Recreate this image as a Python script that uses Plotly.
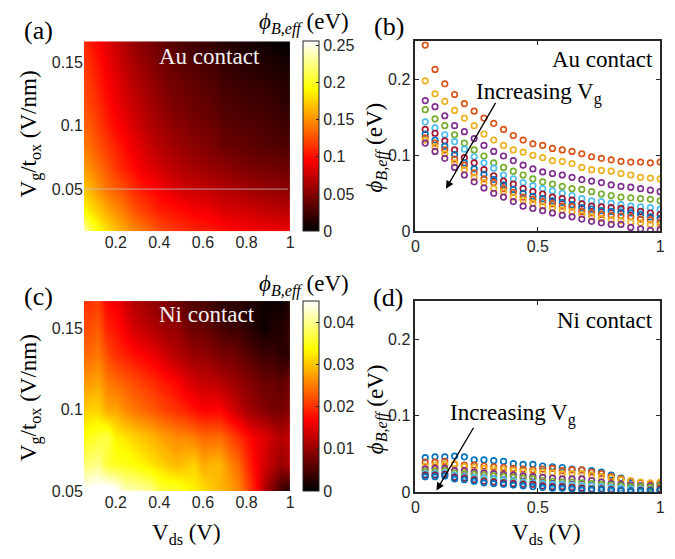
import plotly.graph_objects as go

# ---------------- data ----------------
vds = [0.04, 0.08, 0.12, 0.16, 0.20, 0.24, 0.28, 0.32, 0.36, 0.40, 0.44, 0.48, 0.52,
       0.56, 0.60, 0.64, 0.68, 0.72, 0.76, 0.80, 0.84, 0.88, 0.92, 0.96, 1.00]

# Vg/tox for Au (10 gate voltages) and Ni (8 gate voltages)
vg_tox_au = [0.0167, 0.0333, 0.05, 0.0667, 0.0833, 0.1, 0.1167, 0.1333, 0.15, 0.1667]
vg_tox_ni = [0.05, 0.0667, 0.0833, 0.1, 0.1167, 0.1333, 0.15, 0.1667]

# Au contact: phi_B,eff (eV) vs Vds, one list per gate voltage (increasing Vg)
au_1 = [.245, .213, .194, .180, .168, .158, .149, .142, .134, .126, .120, .115, .113, .109, .107, .105, .102, .098, .096, .094, .092, .091, .091, .090, .091]
au_2 = [.198, .181, .171, .159, .149, .139, .128, .120, .113, .107, .104, .100, .097, .093, .092, .089, .084, .081, .080, .079, .076, .074, .071, .070, .069]
au_3 = [.172, .164, .152, .139, .131, .122, .113, .105, .099, .093, .087, .082, .078, .076, .074, .071, .068, .066, .064, .061, .059, .058, .056, .054, .052]
au_4 = [.160, .148, .139, .127, .116, .107, .099, .090, .084, .079, .074, .069, .065, .062, .059, .056, .055, .052, .049, .047, .045, .044, .043, .042, .040]
au_5 = [.144, .136, .127, .118, .108, .098, .090, .083, .074, .069, .064, .060, .056, .053, .050, .047, .043, .040, .039, .037, .035, .033, .032, .031, .029]
au_6 = [.134, .129, .119, .107, .097, .090, .081, .073, .066, .062, .056, .052, .049, .045, .043, .041, .036, .033, .032, .031, .030, .028, .026, .024, .022]
au_7 = [.128, .120, .112, .101, .090, .082, .075, .068, .061, .055, .050, .046, .043, .040, .038, .035, .031, .029, .027, .026, .025, .024, .022, .019, .017]
au_8 = [.123, .116, .107, .095, .087, .077, .069, .064, .056, .051, .045, .042, .039, .036, .033, .032, .026, .024, .022, .021, .020, .019, .016, .015, .012]
au_9 = [.120, .111, .102, .090, .081, .071, .064, .056, .052, .045, .041, .037, .033, .031, .028, .026, .022, .019, .017, .015, .014, .012, .011, .009, .008]
au_10 = [.116, .105, .096, .084, .074, .065, .057, .050, .045, .039, .033, .030, .027, .024, .021, .019, .016, .013, .011, .009, .009, .005, .003, .001, .002]

# Ni contact
ni_1 = [.045, .046, .046, .047, .046, .042, .042, .041, .040, .037, .036, .036, .034, .033, .032, .030, .029, .028, .026, .022, .018, .012, .008, .004, .002]
ni_2 = [.039, .039, .040, .036, .035, .035, .034, .033, .032, .031, .030, .029, .030, .031, .028, .029, .029, .026, .024, .020, .017, .014, .012, .010, .012]
ni_3 = [.034, .035, .036, .037, .033, .032, .031, .030, .029, .028, .027, .026, .026, .025, .024, .024, .024, .022, .020, .018, .016, .015, .013, .012, .013]
ni_4 = [.030, .031, .031, .028, .028, .026, .025, .024, .023, .022, .021, .020, .019, .018, .017, .017, .017, .015, .013, .011, .010, .009, .008, .008, .009]
ni_5 = [.027, .027, .028, .025, .024, .023, .022, .021, .020, .019, .018, .017, .015, .014, .013, .013, .012, .011, .010, .009, .008, .007, .007, .006, .008]
ni_6 = [.024, .024, .025, .022, .020, .019, .018, .017, .016, .015, .013, .012, .011, .010, .010, .009, .008, .008, .007, .006, .005, .004, .004, .003, .003]
ni_7 = [.022, .022, .023, .019, .018, .016, .014, .013, .012, .011, .010, .010, .008, .007, .007, .006, .005, .004, .004, .003, .002, .001, .002, .002, .004]
ni_8 = [.020, .020, .021, .017, .016, .014, .012, .011, .010, .009, .008, .007, .006, .005, .005, .004, .003, .003, .003, .002, .002, .001, .001, .001, .002]

au_series = [au_1, au_2, au_3, au_4, au_5, au_6, au_7, au_8, au_9, au_10]
ni_series = [ni_1, ni_2, ni_3, ni_4, ni_5, ni_6, ni_7, ni_8]

heat_line_y = 0.05  # faint horizontal artifact line in panel (a)

# ---------------- style ----------------
W, H = 675, 559
MAT = ['#0072BD', '#D95319', '#EDB120', '#7E2F8E', '#77AC30', '#4DBEEE', '#A2142F']
au_colors = [MAT[(i + 1) % 7] for i in range(len(au_series))]
ni_colors = [MAT[i % 7] for i in range(len(ni_series))]
hot = [[0, 'rgb(0,0,0)'], [0.375, 'rgb(255,0,0)'], [0.75, 'rgb(255,255,0)'], [1, 'rgb(255,255,255)']]
SERIF = 'Liberation Serif'
SANS = 'Liberation Sans'
TICKC = '#262626'


def fx(p):
    return p / W


def fy(p):
    return 1 - p / H


A_X = [fx(81), fx(290)]
B_X = [fx(417), fx(665)]
TOP_Y = [fy(235), fy(42)]
C_Y = [fy(499), fy(306)]
D_Y = [fy(500), fy(306)]

fig = go.Figure()

# (a) heatmap Au
fig.add_trace(go.Heatmap(
    x=vds, y=vg_tox_au, z=au_series, zsmooth='best', colorscale=hot,
    zmin=0, zmax=0.255, xaxis='x', yaxis='y', hoverinfo='skip',
    colorbar=dict(x=fx(303), xanchor='left', xpad=0, ypad=0, y=fy(42), yanchor='top',
                  len=193 / H, lenmode='fraction', thickness=16, thicknessmode='pixels',
                  outlinewidth=1, outlinecolor=TICKC,
                  tickvals=[0, 0.05, 0.1, 0.15, 0.2, 0.25],
                  ticktext=['0', '0.05', '0.1', '0.15', '0.2', '0.25'],
                  ticks='inside', ticklen=3, tickcolor=TICKC,
                  tickfont=dict(family=SANS, size=16, color=TICKC))))

# (c) heatmap Ni
fig.add_trace(go.Heatmap(
    x=vds, y=vg_tox_ni, z=ni_series, zsmooth='best', colorscale=hot,
    zmin=0, zmax=0.045, xaxis='x3', yaxis='y3', hoverinfo='skip',
    colorbar=dict(x=fx(303), xanchor='left', xpad=0, ypad=0, y=fy(306), yanchor='top',
                  len=193 / H, lenmode='fraction', thickness=16, thicknessmode='pixels',
                  outlinewidth=1, outlinecolor=TICKC,
                  tickvals=[0, 0.01, 0.02, 0.03, 0.04],
                  ticktext=['0', '0.01', '0.02', '0.03', '0.04'],
                  ticks='inside', ticklen=3, tickcolor=TICKC,
                  tickfont=dict(family=SANS, size=16, color=TICKC))))

# (b) scatter Au
for s, c in zip(au_series, au_colors):
    fig.add_trace(go.Scatter(x=vds, y=s, mode='markers', xaxis='x2', yaxis='y2',
                             marker=dict(symbol='circle-open', size=5.5, color=c, line=dict(width=1.7, color=c)),
                             showlegend=False, hoverinfo='skip'))
# (d) scatter Ni
for s, c in zip(ni_series, ni_colors):
    fig.add_trace(go.Scatter(x=vds, y=s, mode='markers', xaxis='x4', yaxis='y4',
                             marker=dict(symbol='circle-open', size=5.5, color=c, line=dict(width=1.7, color=c)),
                             showlegend=False, hoverinfo='skip'))

tickfont = dict(family=SANS, size=16, color=TICKC)
heat_x = dict(range=[0.054, 1], tickvals=[0.2, 0.4, 0.6, 0.8, 1], ticktext=['0.2', '0.4', '0.6', '0.8', '1'],
              showgrid=False, zeroline=False, ticks='', tickfont=tickfont, showline=False)
heat_y_common = dict(tickvals=[0.05, 0.1, 0.15], ticktext=['0.05', '0.1', '0.15'], showgrid=False,
                     zeroline=False, ticks='', tickfont=tickfont, showline=False)
sc_x = dict(range=[0, 1], tickvals=[0, 0.5, 1], ticktext=['0', '0.5', '1'], showgrid=False, zeroline=False,
            ticks='inside', ticklen=4, tickcolor=TICKC, tickwidth=1, showline=True, linecolor=TICKC,
            linewidth=1.8, mirror='ticks', tickfont=tickfont)
sc_y = dict(range=[0, 0.25], tickvals=[0, 0.1, 0.2], ticktext=['0', '0.1', '0.2'], showgrid=False,
            zeroline=False, ticks='inside', ticklen=4, tickcolor=TICKC, tickwidth=1, showline=True,
            linecolor=TICKC, linewidth=1.8, mirror='ticks', tickfont=tickfont)

fig.update_layout(
    width=W, height=H, margin=dict(l=0, r=0, t=0, b=0),
    paper_bgcolor='white', plot_bgcolor='white', showlegend=False,
    xaxis=dict(domain=A_X, anchor='y', **heat_x),
    yaxis=dict(domain=TOP_Y, anchor='x', range=[0.0167, 0.1667], **heat_y_common),
    xaxis2=dict(domain=B_X, anchor='y2', **sc_x),
    yaxis2=dict(domain=TOP_Y, anchor='x2', **sc_y),
    xaxis3=dict(domain=A_X, anchor='y3', **heat_x),
    yaxis3=dict(domain=C_Y, anchor='x3', range=[0.05, 0.1667], **heat_y_common),
    xaxis4=dict(domain=B_X, anchor='y4', **sc_x),
    yaxis4=dict(domain=D_Y, anchor='x4', **sc_y),
)

fig.add_shape(type='line', xref='x', yref='y', x0=0.054, x1=0.99, y0=heat_line_y, y1=heat_line_y,
              line=dict(color='rgba(190,190,190,0.8)', width=1))

ann = []


def text(x, y, t, size=23, color='black', xanchor='center', yanchor='middle', angle=0, xref='paper', yref='paper'):
    ann.append(dict(x=x, y=y, xref=xref, yref=yref, text=t, showarrow=False, xanchor=xanchor, yanchor=yanchor,
                    textangle=angle, font=dict(family=SERIF, size=size, color=color)))


PHI = '<i>ϕ</i><sub><i>B,eff</i></sub> (eV)'
VG = 'V<sub>g</sub>/t<sub>ox</sub> (V/nm)'
VDS = 'V<sub>ds</sub> (V)'

# panel labels
text(fx(35), fy(31), '(a)', size=26)
text(fx(390), fy(27), '(b)', size=26)
text(fx(35), fy(301), '(c)', size=26)
text(fx(389), fy(302), '(d)', size=26)
# colorbar titles
text(fx(304), fy(24), PHI)
text(fx(304), fy(290), PHI)
# axis titles
text(fx(27), fy(136), VG, angle=-90)
text(fx(27), fy(404), VG, angle=-90)
text(fx(185), fy(559), VDS, yanchor='bottom')
text(fx(550), fy(559), VDS, yanchor='bottom')
text(fx(378), fy(150), PHI, angle=-90)
text(fx(378), fy(416), PHI, angle=-90)
# in-plot labels
text(fx(208), fy(57), 'Au contact', color='#f2f2f2')
text(fx(206), fy(320), 'Ni contact', color='#f2f2f2')
text(fx(660), fy(60), 'Au contact', xanchor='right')
text(fx(660), fy(326), 'Ni contact', xanchor='right')
text(fx(476), fy(95), 'Increasing V<sub>g</sub>', xanchor='left')
text(fx(450), fy(421), 'Increasing V<sub>g</sub>', xanchor='left')

# arrows
ann.append(dict(x=0.125, y=0.056, ax=0.331, ay=0.171, xref='x2', yref='y2', axref='x2', ayref='y2',
                showarrow=True, arrowhead=2, arrowsize=1.2, arrowwidth=1.3, arrowcolor='black', text=''))
ann.append(dict(x=0.086, y=0.002, ax=0.241, ay=0.086, xref='x4', yref='y4', axref='x4', ayref='y4',
                showarrow=True, arrowhead=2, arrowsize=1.2, arrowwidth=1.3, arrowcolor='black', text=''))

fig.update_layout(annotations=ann)
fig.write_html('out.html')
